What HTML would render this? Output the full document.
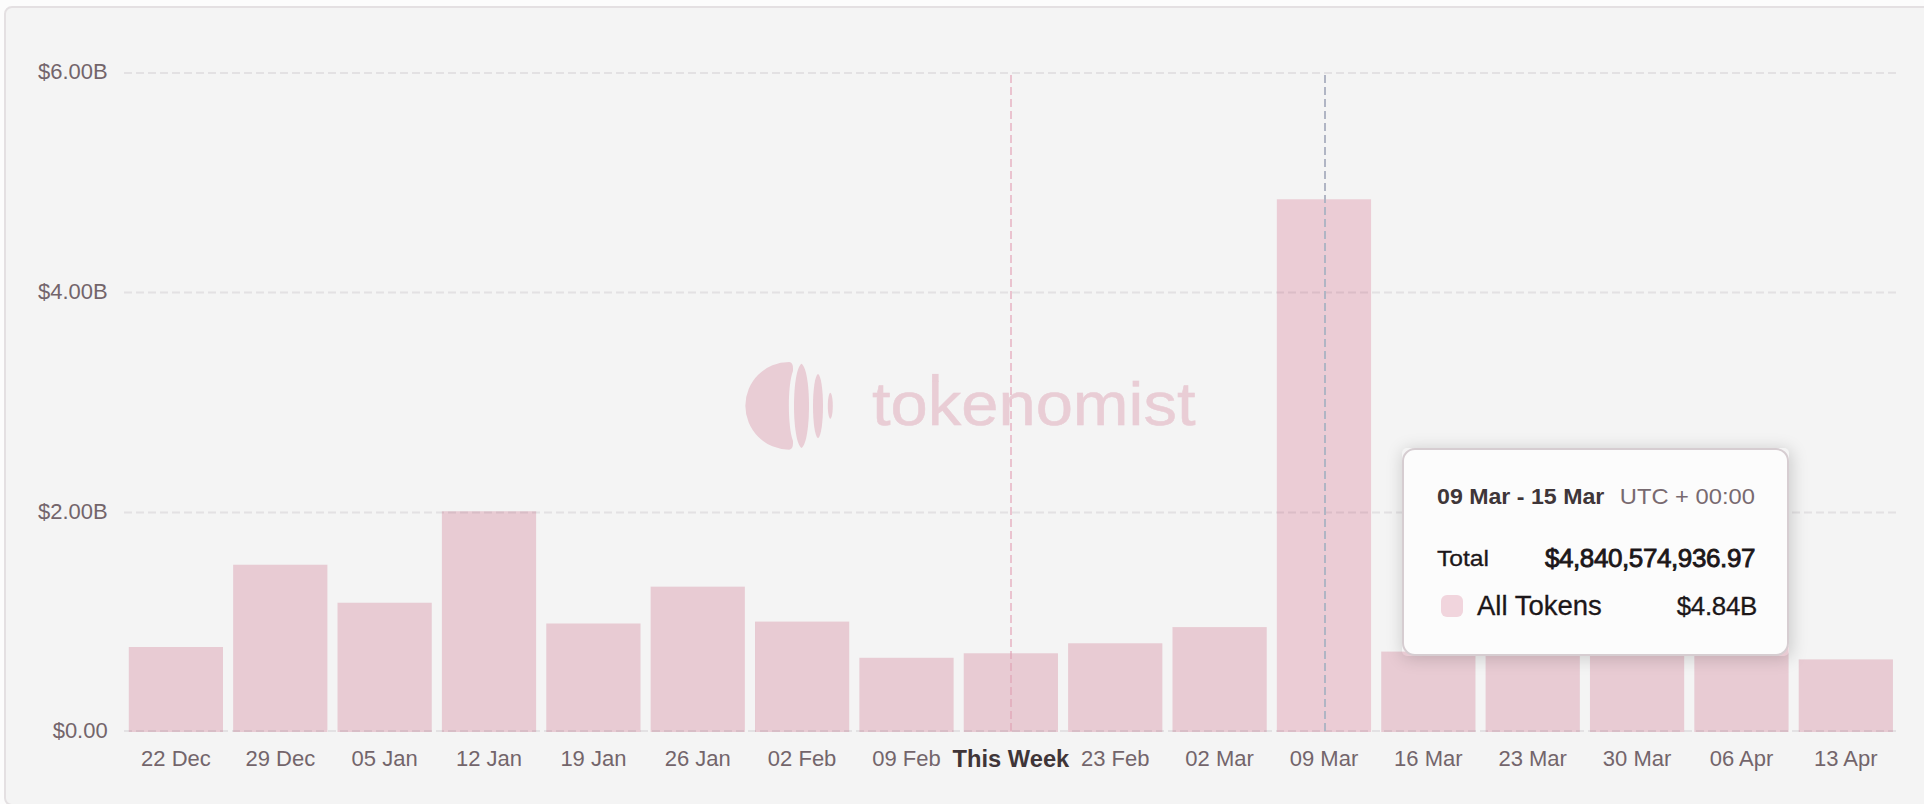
<!DOCTYPE html>
<html lang="en">
<head>
<meta charset="utf-8">
<title>Tokenomist unlock chart</title>
<style>
html,body{margin:0;padding:0;width:1924px;height:804px;overflow:hidden;background:#fcfcfc;}
body{position:relative;font-family:"Liberation Sans",Arial,Helvetica,sans-serif;}
.card{position:absolute;left:4px;top:6px;width:1960px;height:800px;box-sizing:border-box;border:2px solid #e4e0e2;border-radius:8px;background:#f4f4f4;}
svg.chart{position:absolute;left:0;top:0;width:1924px;height:804px;}
svg.chart text{font-family:"Liberation Sans",Arial,Helvetica,sans-serif;}
.grid line{stroke:rgba(100,80,100,.112);stroke-width:2;stroke-dasharray:8 4;}
.bars rect{fill:#dca2b2;fill-opacity:.5;}
.ylab text{font-size:22px;fill:#73656b;text-anchor:end;}
.xlab text{font-size:22px;fill:#73656b;text-anchor:middle;}
.xlab text.tw{font-size:23.7px;font-weight:bold;fill:#3f3538;}
.wm{fill:#e9cdd5;}
.wm text{font-size:60.5px;stroke:#e9cdd5;stroke-width:.5px;}
.tipwrap{position:absolute;left:1402px;top:448px;width:387px;height:208px;border-radius:5px;box-shadow:1.5px 2px 17px rgba(0,0,0,.18);}
.tip{position:absolute;left:0;top:0;width:387px;height:208px;box-sizing:border-box;border:2px solid #d6cdd1;border-radius:13px;background:#fcfcfc;}
.tip span{position:absolute;white-space:nowrap;line-height:1;}
.t-date{left:33px;top:35.5px;font-size:22.1px;font-weight:bold;color:#3f3639;transform:scaleX(1.048);transform-origin:0 50%;}
.t-utc{right:32px;top:35.5px;font-size:22.1px;color:#786a70;transform:scaleX(1.073);transform-origin:100% 50%;}
.t-total{left:33px;top:97.3px;font-size:22.7px;color:#1c1719;-webkit-text-stroke:.3px #1c1719;transform:scaleX(1.085);transform-origin:0 50%;}
.t-val{right:32px;top:95px;font-size:26px;color:#1c1719;letter-spacing:-.4px;-webkit-text-stroke:.85px #1c1719;}
.t-sw{left:37px;top:145px;width:22px;height:22px;border-radius:6px;background:#f1d5dd;}
.t-all{left:73px;top:142px;font-size:27.5px;color:#1c1719;-webkit-text-stroke:.3px #1c1719;}
.t-b{right:30px;top:143.5px;font-size:25.9px;color:#1c1719;letter-spacing:-.3px;-webkit-text-stroke:.3px #1c1719;}
</style>
</head>
<body>
<div class="card"></div>
<svg class="chart" width="1924" height="804" viewBox="0 0 1924 804">
<g class="wm">
<path d="M789.2 361.95 Q793.6 362 792.95 370.9 C787.5 385 787.5 426.6 792.95 440.7 Q793.6 449.6 789.2 449.65 A43.85 43.85 0 1 1 789.2 361.95Z"/>
<path d="M801.5 363.8 C811.50 370.12 811.50 441.68 801.5 448.0 C791.50 441.68 791.50 370.12 801.5 363.8Z"/>
<path d="M818.0 373.7 C824.67 378.55 824.67 433.45 818.0 438.3 C811.33 433.45 811.33 378.55 818.0 373.7Z"/>
<path d="M830.3 392.8 C833.63 394.76 833.63 417.03 830.3 419.0 C826.97 417.03 826.97 394.76 830.3 392.8Z"/>
<rect x="932.1" y="373.9" width="6.5" height="8"/>
<text x="872" y="425.2" textLength="323.5" lengthAdjust="spacingAndGlyphs">tokenomist</text>
</g>
<line x1="1011" x2="1011" y1="731" y2="73" stroke="#eac3cf" stroke-width="2" stroke-dasharray="8 4"/>
<g class="bars">
<rect x="128.80" y="647.00" width="94.2" height="85.00"/>
<rect x="233.17" y="564.75" width="94.2" height="167.25"/>
<rect x="337.54" y="602.75" width="94.2" height="129.25"/>
<rect x="441.91" y="511.25" width="94.2" height="220.75"/>
<rect x="546.28" y="623.50" width="94.2" height="108.50"/>
<rect x="650.65" y="586.70" width="94.2" height="145.30"/>
<rect x="755.02" y="621.60" width="94.2" height="110.40"/>
<rect x="859.39" y="657.80" width="94.2" height="74.20"/>
<rect x="963.76" y="653.30" width="94.2" height="78.70"/>
<rect x="1068.13" y="643.30" width="94.2" height="88.70"/>
<rect x="1172.50" y="627.10" width="94.2" height="104.90"/>
<rect x="1276.87" y="199.30" width="94.2" height="532.70" style="fill:#e2a4b6"/>
<rect x="1381.24" y="651.60" width="94.2" height="80.40"/>
<rect x="1485.61" y="648.00" width="94.2" height="84.00"/>
<rect x="1589.98" y="650.00" width="94.2" height="82.00"/>
<rect x="1694.35" y="646.00" width="94.2" height="86.00"/>
<rect x="1798.72" y="659.40" width="94.2" height="72.60"/>
</g>
<g class="grid">
<line x1="124" x2="1898" y1="73" y2="73"/>
<line x1="124" x2="1898" y1="292.5" y2="292.5"/>
<line x1="124" x2="1898" y1="512.5" y2="512.5"/>
<line x1="124" x2="1898" y1="731" y2="731"/>
</g>
<line x1="1325" x2="1325" y1="731" y2="73" stroke="#b0b5c4" stroke-width="2" stroke-dasharray="8 4"/>
<g class="ylab">
<text transform="translate(107.7,79.1) scale(1,1.045)">$6.00B</text>
<text transform="translate(107.7,298.8) scale(1,1.045)">$4.00B</text>
<text transform="translate(107.7,518.9) scale(1,1.045)">$2.00B</text>
<text transform="translate(107.7,738.2) scale(1,1.045)">$0.00</text>
</g>
<g class="xlab">
<text transform="translate(175.9,766.1) scale(1,1.04)">22 Dec</text>
<text transform="translate(280.3,766.1) scale(1,1.04)">29 Dec</text>
<text transform="translate(384.6,766.1) scale(1,1.04)">05 Jan</text>
<text transform="translate(489.0,766.1) scale(1,1.04)">12 Jan</text>
<text transform="translate(593.4,766.1) scale(1,1.04)">19 Jan</text>
<text transform="translate(697.8,766.1) scale(1,1.04)">26 Jan</text>
<text transform="translate(802.1,766.1) scale(1,1.04)">02 Feb</text>
<text transform="translate(906.5,766.1) scale(1,1.04)">09 Feb</text>
<text class="tw" transform="translate(1010.9,766.6) scale(1,1.03)">This Week</text>
<text transform="translate(1115.2,766.1) scale(1,1.04)">23 Feb</text>
<text transform="translate(1219.6,766.1) scale(1,1.04)">02 Mar</text>
<text transform="translate(1324.0,766.1) scale(1,1.04)">09 Mar</text>
<text transform="translate(1428.3,766.1) scale(1,1.04)">16 Mar</text>
<text transform="translate(1532.7,766.1) scale(1,1.04)">23 Mar</text>
<text transform="translate(1637.1,766.1) scale(1,1.04)">30 Mar</text>
<text transform="translate(1741.5,766.1) scale(1,1.04)">06 Apr</text>
<text transform="translate(1845.8,766.1) scale(1,1.04)">13 Apr</text>
</g>
</svg>
<div class="tipwrap"><div class="tip">
<span class="t-date">09 Mar - 15 Mar</span>
<span class="t-utc">UTC + 00:00</span>
<span class="t-total">Total</span>
<span class="t-val">$4,840,574,936.97</span>
<span class="t-sw"></span>
<span class="t-all">All Tokens</span>
<span class="t-b">$4.84B</span>
</div></div>
</body>
</html>
